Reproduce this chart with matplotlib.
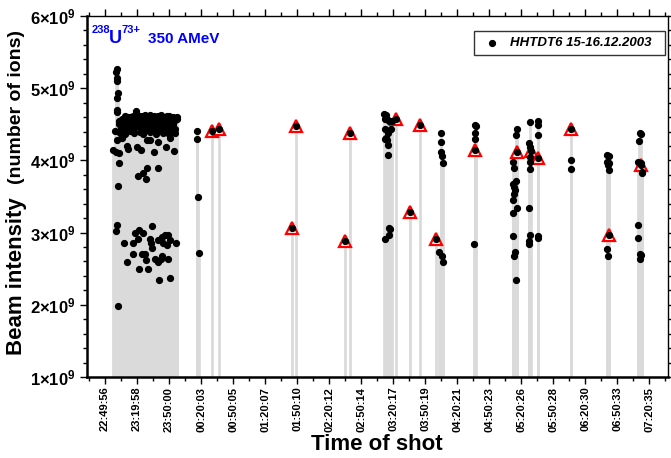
import matplotlib
matplotlib.use("Agg")
import matplotlib.pyplot as plt
import matplotlib.ticker as ticker
from matplotlib.patches import Rectangle
import numpy as np

plt.rcParams['font.family'] = ['Liberation Sans', 'DejaVu Sans']
plt.rcParams['mathtext.fontset'] = 'custom'
plt.rcParams['mathtext.rm'] = 'Liberation Sans'
plt.rcParams['mathtext.bf'] = 'Liberation Sans:bold'
plt.rcParams['mathtext.it'] = 'Liberation Sans:italic'

W, H = 671, 458

# time axis: minutes after 22:49:56 (first labelled tick), intensity in units of 1e9 ions
TICK_STEP = 30.04
tick_labels = ['22:49:56', '23:19:58', '23:50:00', '00:20:03', '00:50:05', '01:20:07',
               '01:50:10', '02:20:12', '02:50:14', '03:20:17', '03:50:19', '04:20:21',
               '04:50:23', '05:20:26', '05:50:28', '06:20:30', '06:50:33', '07:20:35']

# first block of shots 22:57 - 23:58
early_t = [7.2, 10.9, 10.3, 10.9, 11.6, 11.9, 10.9, 10.9, 11.6, 9.4, 10.3, 12.5, 13.1,
           10.3, 11.6, 12.5, 14.1, 15.6, 13.5, 11.6, 18.1, 21.0, 20.3, 21.9, 12.8, 13.4]
early_v = [4.14, 5.26, 5.23, 5.14, 5.10, 4.93, 4.86, 4.70, 4.67, 4.41, 4.12, 3.65, 3.97,
           3.02, 3.10, 1.99, 4.38, 4.31, 4.10, 4.28, 2.86, 2.59, 4.20, 4.16, 4.50, 4.55]

band_t = [15.0, 15.8, 16.5, 17.2, 18.0, 18.6, 19.3, 20.0, 20.8, 21.5, 22.3, 23.0, 23.8, 24.5,
          25.2, 26.0, 26.7, 27.5, 28.2, 29.0, 29.7, 30.5, 31.2, 32.0, 32.7, 33.5, 34.2, 35.0,
          35.7, 36.5, 37.2, 38.0, 38.7, 39.5, 40.2, 41.0, 41.7, 42.5, 43.2, 44.0, 44.7, 45.5,
          46.2, 47.0, 47.7, 48.5, 49.2, 50.0, 50.7, 51.5, 52.2, 53.0, 53.7, 54.5, 55.2, 56.0,
          56.7, 57.5, 58.2, 59.0, 59.7, 60.5, 61.2, 62.0, 62.7, 63.5, 64.2, 65.0, 65.7, 66.5,
          67.3, 68.0, 16.0, 19.0, 22.0, 25.0, 28.0, 31.0, 34.0, 37.0, 40.0, 43.0, 46.0, 49.0,
          52.0, 55.0, 58.0, 61.0, 64.0, 24.0, 27.0, 33.0, 36.0, 39.0, 42.0, 45.0, 48.0, 51.0,
          54.0, 57.0, 60.0, 63.0, 66.0, 29.0]
band_v = [4.45, 4.52, 4.40, 4.48, 4.55, 4.36, 4.50, 4.44, 4.58, 4.47, 4.53, 4.41, 4.60, 4.56,
          4.49, 4.62, 4.55, 4.45, 4.58, 4.64, 4.52, 4.60, 4.47, 4.56, 4.62, 4.53, 4.59, 4.44,
          4.61, 4.55, 4.49, 4.63, 4.57, 4.51, 4.60, 4.46, 4.58, 4.63, 4.53, 4.60, 4.48, 4.57,
          4.62, 4.52, 4.59, 4.44, 4.56, 4.61, 4.50, 4.58, 4.63, 4.47, 4.55, 4.60, 4.51, 4.57,
          4.42, 4.60, 4.54, 4.48, 4.58, 4.62, 4.52, 4.45, 4.57, 4.60, 4.50, 4.55, 4.43, 4.58,
          4.60, 4.57, 4.58, 4.62, 4.60, 4.54, 4.50, 4.57, 4.50, 4.60, 4.54, 4.58, 4.55, 4.60,
          4.56, 4.59, 4.61, 4.56, 4.58, 4.44, 4.38, 4.40, 4.37, 4.42, 4.39, 4.41, 4.36, 4.42,
          4.38, 4.40, 4.37, 4.41, 4.38, 4.69]

mid_t = [30.4, 33.5, 46.3, 64.8, 57.0, 50.1, 39.1, 42.2, 61.0, 39.1, 36.0, 31.3, 38.2, 49.4]
mid_v = [4.18, 4.14, 4.11, 4.13, 4.19, 4.26, 4.28, 4.28, 4.31, 3.89, 3.83, 3.78, 3.74, 3.89]

low_t = [44.4, 28.2, 32.2, 36.0, 42.2, 42.9, 50.1, 53.2, 56.3, 59.5, 61.0, 54.8, 57.9, 66.3,
         26.6, 31.3, 26.6, 34.4, 37.6, 43.8, 53.2, 52.3, 58.8, 38.2, 46.9, 50.1, 31.9, 40.7,
         51.0, 61.0]
low_v = [3.09, 3.00, 3.04, 3.00, 2.91, 2.86, 2.90, 2.94, 2.97, 2.97, 2.90, 2.86, 2.83, 2.86,
         2.85, 2.91, 2.71, 2.71, 2.70, 2.78, 2.68, 2.64, 2.63, 2.62, 2.64, 2.59, 2.49, 2.49,
         2.35, 2.37]

# later, sparser shots 00:16 - 07:14
late_t = [86.1, 86.7, 87.6, 88.5,
          261.9, 263.8, 262.9, 265.0, 266.9, 269.1, 262.9, 268.2, 266.0, 263.8, 262.9, 265.0,
          266.0, 266.0, 266.9, 267.5, 266.5, 262.9,
          315.4, 315.1, 315.4, 316.1, 317.6, 313.5, 316.1, 317.0,
          347.3, 348.0, 347.3, 347.3, 346.7,
          386.5, 385.8, 383.3, 384.0, 382.7, 385.8, 384.0, 384.9, 384.2, 383.3, 386.5, 383.3,
          383.3, 384.9, 384.2, 385.6,
          399.0, 398.3, 399.0, 399.0, 399.0, 399.0, 398.3, 399.0, 398.0, 397.7,
          406.2, 406.2, 406.2, 406.2, 406.2,
          437.5, 437.5,
          471.6, 472.8, 471.6, 472.8, 471.9, 473.4, 471.6, 472.2,
          502.2, 503.2, 501.6, 500.6, 502.9, 503.8, 503.8, 500.6, 500.0, 502.2, 503.2, 502.2]
late_v = [4.41, 4.30, 3.50, 2.72,
          4.64, 4.63, 4.58, 4.57, 4.54, 4.54, 4.44, 4.43, 4.38, 4.31, 4.29, 4.28,
          4.21, 4.07, 3.07, 3.05, 2.97, 2.91,
          4.38, 4.25, 4.11, 4.06, 3.96, 2.73, 2.67, 2.59,
          4.49, 4.47, 4.38, 4.29, 2.84,
          4.43, 4.35, 3.98, 3.90, 3.68, 3.71, 3.63, 3.59, 3.54, 3.45, 3.34, 3.27,
          2.95, 2.73, 2.67, 2.34,
          4.53, 4.24, 4.19, 4.05, 3.98, 3.88, 3.34, 2.97, 2.89, 2.84,
          4.54, 4.49, 4.35, 2.95, 2.93,
          4.01, 3.88,
          4.08, 4.06, 3.98, 3.96, 3.94, 3.87, 2.77, 2.67,
          4.38, 4.36, 4.27, 3.98, 3.97, 3.84, 3.82, 3.10, 2.92, 2.71, 2.69, 2.64]

# shots marked with a red triangle
mark_t = [100.8, 107.0, 175.5, 179.0, 225.0, 230.3, 273.2, 286.3, 295.7, 310.4, 347.5,
          386.5, 399.9, 406.8, 437.7, 473.4, 503.2]
mark_v = [4.41, 4.44, 3.07, 4.48, 2.88, 4.38, 4.58, 3.28, 4.49, 2.91, 4.14,
          4.11, 4.13, 4.03, 4.44, 2.97, 3.94]

t_all = np.array(early_t + band_t + mid_t + low_t + late_t + mark_t)
v_all = np.array(early_v + band_v + mid_v + low_v + late_v + mark_v) * 1e9

fig = plt.figure(figsize=(W / 100, H / 100), dpi=100)
ax = fig.add_axes([87 / W, 1 - 377 / H, 581 / W, 361 / H])

ax.vlines(t_all, 1e9, v_all, color='#dadada', lw=2, zorder=1)
ax.plot(mark_t, np.array(mark_v) * 1e9, ls='none', marker='^', ms=8.5, mfc='white',
        mec='red', mew=1.6, zorder=2)
ax.plot(t_all, v_all, ls='none', marker='o', ms=4.2, color='black', zorder=3)

ax.set_xlim(-16.9, 528.5)
ax.set_ylim(1e9, 6e9)

ax.xaxis.set_major_locator(ticker.FixedLocator([i * TICK_STEP for i in range(len(tick_labels))]))
ax.xaxis.set_minor_locator(ticker.FixedLocator([(i + 0.5) * TICK_STEP for i in range(-1, len(tick_labels))]))
ax.set_xticklabels(tick_labels, rotation=90, fontsize=8, fontweight='bold')

ax.yaxis.set_minor_locator(ticker.MultipleLocator(0.2e9))
ax.set_yticks([k * 1e9 for k in range(1, 7)])
ax.set_yticklabels([r'$\mathbf{%d{\times}10^{9}}$' % k for k in range(1, 7)], fontsize=12)

ax.tick_params(which='both', direction='out', top=True, right=True, width=1)
ax.tick_params(which='major', length=5)
ax.tick_params(which='minor', length=3)
ax.tick_params(axis='x', which='both', pad=2)
for side in ['left', 'bottom']:
    ax.spines[side].set_linewidth(1.8)
for side in ['top', 'right']:
    ax.spines[side].set_linewidth(1.0)

# ion / energy annotation
blue = '#0000ff'
fig.text(92 / W, 1 - 33 / H, '238', color=blue, fontsize=8, fontweight='bold', va='baseline')
fig.text(109 / W, 1 - 43 / H, 'U', color=blue, fontsize=13, fontweight='bold', va='baseline')
fig.text(122 / W, 1 - 33 / H, '73+', color=blue, fontsize=8, fontweight='bold', va='baseline')
fig.text(148 / W, 1 - 43 / H, '350 AMeV', color=blue, fontsize=11, fontweight='bold', va='baseline')

# legend box drawn by hand
fig.patches.append(Rectangle((474 / W, 1 - 55 / H), 191 / W, 24 / H, transform=fig.transFigure,
                             facecolor='white', edgecolor='#333333', lw=1.0, zorder=5))
fig.lines.append(plt.Line2D([492 / W], [1 - 43 / H], transform=fig.transFigure, ls='none',
                            marker='o', ms=4.2, color='black', zorder=6))
fig.text(510 / W, 1 - 43 / H, 'HHTDT6 15-16.12.2003', fontsize=9.5, fontweight='bold',
         style='italic', va='center', ha='left', zorder=7)

fig.text(377 / W, 1 - 450 / H, 'Time of shot', fontsize=16, fontweight='bold',
         ha='center', va='baseline')
fig.text(17 / W, 1 - 355 / H, 'Beam intensity', fontsize=16, fontweight='bold',
         rotation=90, ha='center', va='bottom')
fig.text(17 / W, 1 - 30 / H, '(number of ions)', fontsize=14, fontweight='bold',
         rotation=90, ha='center', va='top')

fig.savefig('out.png', dpi=100)
